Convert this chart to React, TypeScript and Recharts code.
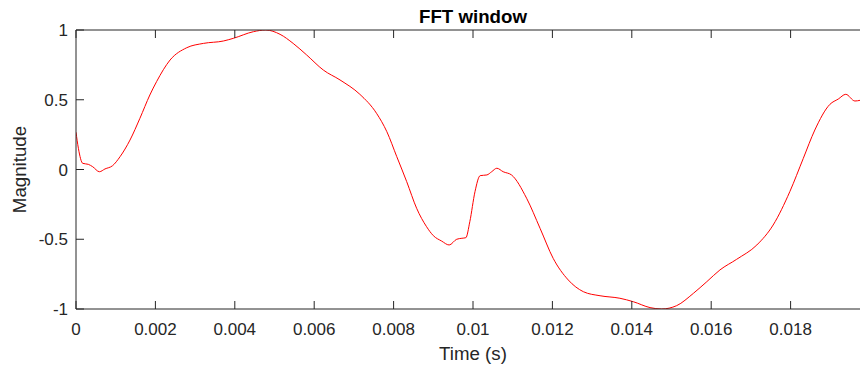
import React from 'react';
import { LineChart, Line, XAxis, YAxis } from 'recharts';

// Time (s) samples of the windowed signal
const times = [
  0, 0.00006, 0.00017, 0.00031, 0.00042, 0.00059, 0.00073, 0.00092, 0.00111, 0.00136,
  0.00161, 0.00186, 0.00203, 0.00237, 0.00279, 0.00321, 0.00371, 0.00396, 0.00447, 0.00478,
  0.00514, 0.00547, 0.00581, 0.00623, 0.00665, 0.00715, 0.00757, 0.00783, 0.00808, 0.00833,
  0.00858, 0.00883, 0.009, 0.00921, 0.0094, 0.00959, 0.00972, 0.00982, 0.00992, 0.01005,
  0.01018, 0.01035, 0.01047, 0.0106, 0.01076, 0.01097, 0.01135, 0.01169, 0.01202, 0.0124,
  0.01278, 0.0132, 0.0137, 0.01404, 0.01446, 0.01475, 0.01513, 0.01555, 0.01589, 0.01622,
  0.01664, 0.01715, 0.01756, 0.01798, 0.01832, 0.01861, 0.01899, 0.0192, 0.01939, 0.01962,
  0.01975,
];

// Magnitude values
const magnitudes = [
  0.267, 0.152, 0.044, 0.037, 0.02, -0.016, 0.004, 0.027, 0.092, 0.211,
  0.367, 0.534, 0.63, 0.785, 0.873, 0.904, 0.921, 0.94, 0.988, 1.0,
  0.969, 0.904, 0.821, 0.713, 0.642, 0.539, 0.403, 0.271, 0.092, -0.087,
  -0.278, -0.41, -0.474, -0.513, -0.541, -0.5, -0.493, -0.489, -0.374, -0.159,
  -0.044, -0.039, -0.016, 0.009, -0.016, -0.039, -0.206, -0.422, -0.637, -0.792,
  -0.876, -0.905, -0.923, -0.948, -0.99, -1.0, -0.976, -0.888, -0.804, -0.72,
  -0.644, -0.541, -0.398, -0.159, 0.08, 0.283, 0.467, 0.505, 0.539, 0.491,
  0.496,
];

const xTicks = [0, 0.002, 0.004, 0.006, 0.008, 0.01, 0.012, 0.014, 0.016, 0.018];
const xTickLabels = ['0', '0.002', '0.004', '0.006', '0.008', '0.01', '0.012', '0.014', '0.016', '0.018'];
const yTicks = [-1, -0.5, 0, 0.5, 1];
const yTickLabels = ['-1', '-0.5', '0', '0.5', '1'];

const title = 'FFT window';
const xLabel = 'Time (s)';
const yLabel = 'Magnitude';

const data = times.map((t, i) => ({ t, v: magnitudes[i] }));

const AXIS = '#262626';
const TXT = '#262626';
const FONT = '"Liberation Sans", Arial, Helvetica, sans-serif';
const TICK_LEN = 8;

const labelFor = (ticks: number[], labels: string[], v: number) => {
  const i = ticks.findIndex((t) => Math.abs(t - v) < 1e-9);
  return i >= 0 ? labels[i] : String(v);
};

const BottomTick = (props: any) => {
  const { x, y, payload } = props;
  return (
    <g>
      <line x1={x} y1={y} x2={x} y2={y - TICK_LEN} stroke={AXIS} strokeWidth={1} />
      <text x={x} y={y + 26} textAnchor="middle" fontSize={17} fill={TXT} fontFamily={FONT}>
        {labelFor(xTicks, xTickLabels, payload.value)}
      </text>
    </g>
  );
};

const TopTick = (props: any) => {
  const { x, y } = props;
  return <line x1={x} y1={y} x2={x} y2={y + TICK_LEN} stroke={AXIS} strokeWidth={1} />;
};

const LeftTick = (props: any) => {
  const { x, y, payload } = props;
  return (
    <g>
      <line x1={x} y1={y} x2={x + TICK_LEN} y2={y} stroke={AXIS} strokeWidth={1} />
      <text x={x - 8} y={y + 6} textAnchor="end" fontSize={17} fill={TXT} fontFamily={FONT}>
        {labelFor(yTicks, yTickLabels, payload.value)}
      </text>
    </g>
  );
};

const TitleLabel = (props: any) => {
  const vb = props.viewBox || { x: 76, y: 0, width: 794, height: 30 };
  return (
    <text x={vb.x + vb.width / 2} y={vb.y + 22.5} textAnchor="middle" fontSize={18.7} fontWeight="bold" fill="#000" fontFamily={FONT}>
      {title}
    </text>
  );
};

const XLabel = (props: any) => {
  const vb = props.viewBox || { x: 76, y: 309, width: 794, height: 57 };
  return (
    <text x={vb.x + vb.width / 2} y={vb.y + 51} textAnchor="middle" fontSize={18.7} fill={TXT} fontFamily={FONT}>
      {xLabel}
    </text>
  );
};

const YLabel = (props: any) => {
  const vb = props.viewBox || { x: 0, y: 30, width: 76, height: 279 };
  const cx = 25.5;
  const cy = vb.y + vb.height / 2;
  return (
    <text x={cx} y={cy} transform={`rotate(-90 ${cx} ${cy})`} textAnchor="middle" fontSize={18.7} fill={TXT} fontFamily={FONT}>
      {yLabel}
    </text>
  );
};

export default function App() {
  return (
    <div style={{ position: 'absolute', left: 0, top: 0, width: 860, height: 366, overflow: 'hidden', background: '#fff' }}>
      <LineChart width={871} height={366} data={data} margin={{ top: 0, right: 1, bottom: 0, left: 0 }}>
        <XAxis
          xAxisId={0}
          type="number"
          dataKey="t"
          domain={[0, 0.02]}
          allowDataOverflow
          ticks={xTicks}
          interval={0}
          height={57}
          tickSize={0}
          tickMargin={0}
          tickLine={false}
          tick={<BottomTick />}
          axisLine={{ stroke: AXIS, strokeWidth: 1 }}
          label={<XLabel />}
        />
        <XAxis
          xAxisId="top"
          orientation="top"
          type="number"
          dataKey="t"
          domain={[0, 0.02]}
          allowDataOverflow
          ticks={xTicks}
          interval={0}
          height={30}
          tickSize={0}
          tickMargin={0}
          tickLine={false}
          tick={<TopTick />}
          axisLine={{ stroke: AXIS, strokeWidth: 1 }}
          label={<TitleLabel />}
        />
        <YAxis
          type="number"
          domain={[-1, 1]}
          allowDataOverflow
          ticks={yTicks}
          interval={0}
          width={76}
          tickSize={0}
          tickMargin={0}
          tickLine={false}
          tick={<LeftTick />}
          axisLine={{ stroke: AXIS, strokeWidth: 1 }}
          label={<YLabel />}
        />
        <Line
          xAxisId={0}
          type="monotone"
          dataKey="v"
          stroke="#ff0000"
          strokeWidth={1}
          dot={false}
          activeDot={false}
          isAnimationActive={false}
        />
      </LineChart>
    </div>
  );
}
